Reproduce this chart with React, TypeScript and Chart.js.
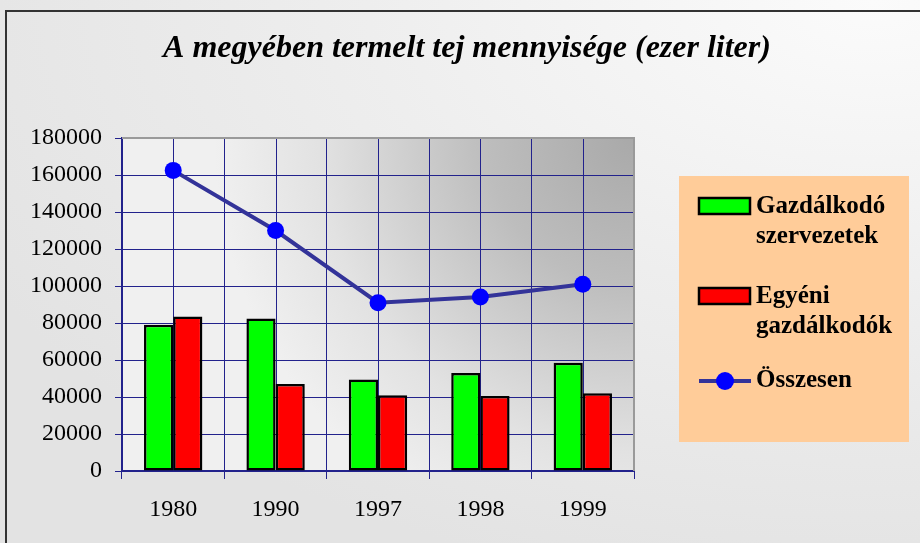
import React, { useEffect, useRef } from "react";
import { Chart, registerables } from "chart.js";

Chart.register(...registerables);

const titleText = "A megyében termelt tej mennyisége (ezer liter)";
const categories = ["1980", "1990", "1997", "1998", "1999"];
const seriesNames = ["Gazdálkodó szervezetek", "Egyéni gazdálkodók", "Összesen"];
const gazdalkodo = [79000, 82500, 49500, 53000, 58500];
const egyeni = [83500, 47000, 41000, 40500, 42000];
const osszesen = [162500, 130000, 91000, 94000, 101000];
const yMin = 0;
const yMax = 180000;
const yStep = 20000;

const GRID = "#22228c";
const SERIF = "'Liberation Serif', 'Times New Roman', serif";

const plotBg = {
  id: "plotBg",
  beforeDraw(chart: any) {
    const { ctx, chartArea: a } = chart;
    ctx.save();
    const g = ctx.createRadialGradient(a.right, a.top, 0, a.right, a.top, 420);
    g.addColorStop(0, "#a9a9a9");
    g.addColorStop(0.35, "#bdbdbd");
    g.addColorStop(0.75, "#e2e2e2");
    g.addColorStop(1, "#f0f0f0");
    ctx.fillStyle = g;
    ctx.fillRect(a.left, a.top, a.right - a.left, a.bottom - a.top);
    ctx.restore();
  },
  beforeDatasetsDraw(chart: any) {
    const { ctx, chartArea: a, scales } = chart;
    const x = scales.x;
    ctx.save();
    ctx.strokeStyle = GRID;
    ctx.lineWidth = 1;
    for (let i = 0; i < categories.length; i++) {
      const px = Math.round(x.getPixelForValue(i)) + 0.5;
      ctx.beginPath();
      ctx.moveTo(px, a.top);
      ctx.lineTo(px, a.bottom);
      ctx.stroke();
    }
    ctx.strokeStyle = "#9a9a9a";
    ctx.lineWidth = 2;
    ctx.beginPath();
    ctx.moveTo(a.left, a.top);
    ctx.lineTo(a.right, a.top);
    ctx.lineTo(a.right, a.bottom);
    ctx.stroke();
    ctx.restore();
  },
};

const titleAndLegend = {
  id: "titleAndLegend",
  afterDraw(chart: any) {
    const { ctx } = chart;
    ctx.save();
    ctx.fillStyle = "#000";
    ctx.font = `italic bold 32px ${SERIF}`;
    ctx.textAlign = "center";
    ctx.textBaseline = "middle";
    ctx.fillText(titleText, 467, 49);

    // legend box
    ctx.fillStyle = "#ffcc99";
    ctx.fillRect(679, 176, 230, 266);
    ctx.font = `bold 25px ${SERIF}`;
    ctx.textAlign = "left";
    ctx.textBaseline = "middle";
    const find = (name: string) => chart.data.datasets.find((d: any) => d.label === name);
    const entries = [
      { y: 207, type: "bar", ds: find(seriesNames[0]), name: seriesNames[0] },
      { y: 297, type: "bar", ds: find(seriesNames[1]), name: seriesNames[1] },
      { y: 381, type: "line", ds: find(seriesNames[2]), name: seriesNames[2] },
    ];
    entries.forEach((e) => {
      if (e.type === "bar") {
        ctx.fillStyle = e.ds.backgroundColor;
        ctx.fillRect(699, e.y - 9, 51, 16);
        ctx.strokeStyle = "#000";
        ctx.lineWidth = 2.5;
        ctx.strokeRect(699, e.y - 9, 51, 16);
      } else {
        ctx.strokeStyle = e.ds.borderColor;
        ctx.lineWidth = 4;
        ctx.beginPath();
        ctx.moveTo(699, e.y);
        ctx.lineTo(751, e.y);
        ctx.stroke();
        ctx.fillStyle = e.ds.pointBackgroundColor;
        ctx.beginPath();
        ctx.arc(725, e.y, 9, 0, Math.PI * 2);
        ctx.fill();
      }
      ctx.fillStyle = "#000";
      const words = e.name.split(" ");
      words.forEach((w: string, k: number) => ctx.fillText(w, 756, e.y + k * 30));
    });
    ctx.restore();
  },
};

export default function App() {
  const ref = useRef<HTMLCanvasElement>(null);
  useEffect(() => {
    if (!ref.current) return;
    const chart = new Chart(ref.current, {
      type: "bar",
      data: {
        labels: categories,
        datasets: [
          {
            type: "line",
            label: seriesNames[2],
            data: osszesen,
            borderColor: "#333399",
            borderWidth: 4,
            pointRadius: 8.5,
            pointBackgroundColor: "#0000ff",
            pointBorderWidth: 0,
            pointBorderColor: "#0000ff",
            order: 0,
          } as any,
          {
            label: seriesNames[0],
            data: gazdalkodo,
            backgroundColor: "#00ff00",
            borderColor: "#000",
            borderWidth: 2.5,
            borderSkipped: false,
            categoryPercentage: 0.57,
            barPercentage: 1,
            order: 1,
          },
          {
            label: seriesNames[1],
            data: egyeni,
            backgroundColor: "#ff0000",
            borderColor: "#000",
            borderWidth: 2.5,
            borderSkipped: false,
            categoryPercentage: 0.57,
            barPercentage: 1,
            order: 1,
          },
        ],
      },
      options: {
        responsive: false,
        animation: false,
        devicePixelRatio: 1,
        layout: { padding: { left: 0, right: 286, top: 138, bottom: 0 } },
        plugins: {
          legend: { display: false },
          title: { display: false },
          tooltip: { enabled: false },
        },
        scales: {
          x: {
            offset: true,
            grid: { offset: true, color: GRID, lineWidth: 1, tickLength: 8, drawTicks: true },
            border: { color: GRID, width: 2 },
            ticks: { color: "#000", font: { family: SERIF, size: 24 }, padding: 16, maxRotation: 0 },
            afterFit: (s: any) => {
              s.height = 72;
            },
          },
          y: {
            min: yMin,
            max: yMax,
            grid: { color: GRID, lineWidth: 1, tickLength: 7 },
            border: { color: GRID, width: 2 },
            ticks: {
              stepSize: yStep,
              color: "#000",
              font: { family: SERIF, size: 24 },
              padding: 13,
              callback: (v: any) => String(v),
            },
            afterFit: (s: any) => {
              s.width = 122;
            },
          },
        },
      },
      plugins: [plotBg, titleAndLegend],
    });
    return () => chart.destroy();
  }, []);

  return (
    <div
      style={{
        position: "fixed",
        left: 0,
        top: 0,
        width: 920,
        height: 543,
        overflow: "hidden",
        background: "radial-gradient(ellipse 110% 110% at 95% 0%, #fbfbfb 0%, #eeeeee 50%, #e3e3e3 100%)",
      }}
    >
      <div
        style={{
          position: "absolute",
          left: 5,
          top: 10,
          width: 930,
          height: 550,
          borderLeft: "2px solid #333",
          borderTop: "2px solid #333",
        }}
      />
      <canvas ref={ref} width={920} height={543} style={{ position: "absolute", left: 0, top: 0 }} />
    </div>
  );
}
